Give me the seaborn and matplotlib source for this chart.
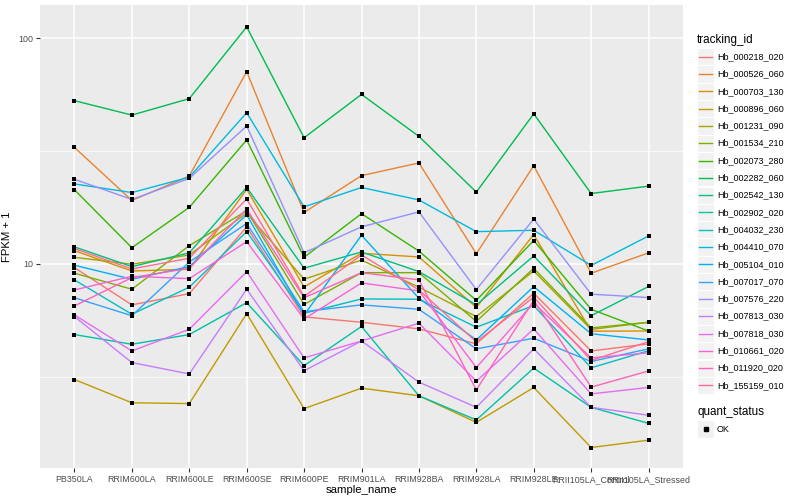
#!/usr/bin/env python3
"""Expression plot: FPKM + 1 per sample for 20 tracking ids (ggplot-like style)."""

import matplotlib

matplotlib.use("Agg")
import matplotlib.pyplot as plt
import pandas as pd
import seaborn as sns
from matplotlib.lines import Line2D
from matplotlib.patches import Rectangle
from matplotlib.ticker import FixedLocator, NullFormatter

SAMPLES = [
    "PB350LA", "RRIM600LA", "RRIM600LE", "RRIM600SE", "RRIM600PE", "RRIM901LA",
    "RRIM928BA", "RRIM928LA", "RRIM928LE", "RRII105LA_Control", "RRII105LA_Stressed",
]

# FPKM + 1, one value per sample (same order as SAMPLES)
HB_000218_020 = [9.63, 6.59, 7.39, 14.6, 5.83, 5.52, 5.16, 4.43, 7.42, 4.12, 4.43]
HB_000526_060 = [32.8, 19.1, 24.5, 71.0, 16.9, 24.6, 28.0, 11.1, 27.2, 9.1, 11.2]
HB_000703_130 = [11.45, 9.31, 9.47, 21.4, 7.91, 11.15, 10.74, 6.42, 13.5, 5.04, 5.05]
HB_000896_060 = [3.08, 2.43, 2.41, 6.03, 2.29, 2.82, 2.61, 1.99, 2.84, 1.54, 1.66]
HB_001231_090 = [10.7, 9.97, 10.96, 16.8, 8.56, 10.4, 7.89, 5.85, 9.31, 5.13, 5.52]
HB_001534_210 = [9.1, 7.73, 12.05, 17.2, 6.62, 9.15, 9.15, 5.57, 9.57, 5.21, 5.52]
HB_002073_280 = [21.3, 11.8, 17.8, 35.4, 10.7, 16.7, 11.4, 6.9, 12.7, 6.3, 5.05]
HB_002282_060 = [52.8, 45.6, 53.9, 112.0, 36.2, 56.3, 36.7, 20.8, 46.2, 20.5, 22.1]
HB_002542_130 = [11.9, 9.73, 11.2, 21.8, 9.58, 11.3, 9.25, 6.59, 10.85, 5.9, 7.95]
HB_002902_020 = [4.87, 4.41, 4.87, 6.74, 3.55, 5.29, 2.61, 2.04, 3.46, 2.32, 1.97]
HB_004032_230 = [8.5, 5.99, 7.89, 13.9, 6.05, 7.0, 6.98, 5.25, 6.54, 3.47, 4.13]
HB_004410_070 = [22.6, 20.7, 24.2, 46.7, 17.9, 21.8, 19.2, 13.9, 14.1, 9.85, 13.3]
HB_005104_010 = [9.87, 8.56, 9.73, 16.5, 5.94, 13.4, 7.05, 4.61, 7.94, 4.91, 4.61]
HB_007017_070 = [7.09, 5.9, 10.2, 15.1, 6.15, 6.59, 6.3, 4.21, 4.69, 3.7, 4.21]
HB_007576_220 = [23.7, 19.3, 23.9, 40.8, 11.2, 14.6, 17.0, 7.7, 15.8, 7.35, 7.1]
HB_007813_030 = [5.85, 3.66, 3.26, 7.73, 3.37, 4.56, 3.0, 2.32, 4.21, 2.32, 2.14]
HB_007818_030 = [5.95, 4.12, 5.14, 9.25, 3.84, 4.56, 5.47, 3.03, 5.16, 2.66, 2.84]
HB_010661_020 = [7.67, 8.82, 8.61, 12.55, 5.71, 8.24, 7.6, 3.48, 6.72, 3.84, 4.04]
HB_011920_020 = [6.52, 8.7, 9.57, 17.5, 7.09, 9.15, 8.5, 2.77, 6.91, 2.85, 3.36]
HB_155159_010 = [11.7, 9.5, 10.6, 19.4, 7.18, 10.96, 7.67, 4.52, 7.13, 3.74, 4.53]

SERIES = {
    "Hb_000218_020": HB_000218_020,
    "Hb_000526_060": HB_000526_060,
    "Hb_000703_130": HB_000703_130,
    "Hb_000896_060": HB_000896_060,
    "Hb_001231_090": HB_001231_090,
    "Hb_001534_210": HB_001534_210,
    "Hb_002073_280": HB_002073_280,
    "Hb_002282_060": HB_002282_060,
    "Hb_002542_130": HB_002542_130,
    "Hb_002902_020": HB_002902_020,
    "Hb_004032_230": HB_004032_230,
    "Hb_004410_070": HB_004410_070,
    "Hb_005104_010": HB_005104_010,
    "Hb_007017_070": HB_007017_070,
    "Hb_007576_220": HB_007576_220,
    "Hb_007813_030": HB_007813_030,
    "Hb_007818_030": HB_007818_030,
    "Hb_010661_020": HB_010661_020,
    "Hb_011920_020": HB_011920_020,
    "Hb_155159_010": HB_155159_010,
}

# ggplot2 default hue palette for 20 levels
HUE_COLORS = [
    "#F8766D", "#EA8331", "#D89000", "#C09B00", "#A3A500", "#7CAE00", "#39B600",
    "#00BB4E", "#00BF7D", "#00C1A3", "#00BFC4", "#00BAE0", "#00B0F6", "#35A2FF",
    "#9590FF", "#C77CFF", "#E76BF3", "#FA62DB", "#FF62BC", "#FF6C91",
]

W, H = 800, 500
FONT = "Liberation Sans"


def fpx(x, y):
    """Pixel position (from top-left) to figure fraction."""
    return x / W, 1 - y / H


def build_frame() -> pd.DataFrame:
    rows = []
    for tid, vals in SERIES.items():
        for sample, v in zip(SAMPLES, vals):
            rows.append({"tracking_id": tid, "sample_name": sample, "fpkm": v, "quant_status": "OK"})
    return pd.DataFrame(rows)


def draw_legend(fig, ids, colors):
    txt = dict(family=FONT, va="center", ha="left")
    fig.text(*fpx(697, 40), "tracking_id", fontsize=8.4, **txt)
    y0, step = 56.7, 17.3
    for i, (tid, col) in enumerate(zip(ids, colors)):
        y = y0 + i * step
        fig.add_artist(Rectangle(fpx(697, y + 8.6), 17 / W, 17.2 / H, transform=fig.transFigure,
                                 facecolor="#F2F2F2", edgecolor="white", linewidth=0.8))
        fig.add_artist(Line2D([699 / W, 712 / W], [1 - y / H] * 2, transform=fig.transFigure,
                              color=col, linewidth=1.0))
        fig.text(*fpx(717, y), tid, fontsize=6.5, **txt)

    fig.text(*fpx(697, 412), "quant_status", fontsize=8.4, **txt)
    fig.add_artist(Rectangle(fpx(697, 437.6), 17 / W, 17.2 / H, transform=fig.transFigure,
                             facecolor="#F2F2F2", edgecolor="white", linewidth=0.8))
    fig.add_artist(Line2D([705.5 / W], [1 - 429 / H], transform=fig.transFigure, marker="s",
                          markersize=3.2, color="black", linestyle="none"))
    fig.text(*fpx(717, 429), "OK", fontsize=6.5, **txt)


def main() -> None:
    df = build_frame()
    ids = list(SERIES.keys())

    fig = plt.figure(figsize=(W / 100, H / 100), dpi=100)
    fig.patch.set_facecolor("white")
    ax = fig.add_axes([40 / W, 1 - 468 / H, (683 - 40) / W, (468 - 5) / H])
    ax.set_facecolor("#EBEBEB")

    sns.lineplot(data=df, x="sample_name", y="fpkm", hue="tracking_id", hue_order=ids,
                 palette=HUE_COLORS, units="tracking_id", estimator=None, sort=False,
                 linewidth=1.0, legend=False, ax=ax, zorder=3)
    sns.scatterplot(data=df, x="sample_name", y="fpkm", color="black", marker="s", s=9,
                    linewidth=0, legend=False, ax=ax, zorder=4)

    ax.set_yscale("log")
    ax.set_ylim(1.25, 140)
    ax.set_xlim(-0.6, len(SAMPLES) - 0.4)
    ax.yaxis.set_major_locator(FixedLocator([10, 100]))
    ax.set_yticklabels(["10", "100"])
    ax.yaxis.set_minor_locator(FixedLocator([10 ** 0.5, 10 ** 1.5]))
    ax.yaxis.set_minor_formatter(NullFormatter())

    ax.grid(which="major", color="white", linewidth=1.1, zorder=0)
    ax.grid(which="minor", axis="y", color="white", linewidth=0.5, zorder=0)
    ax.set_axisbelow(True)
    for sp in ax.spines.values():
        sp.set_visible(False)

    ax.tick_params(axis="both", which="major", length=3, width=0.8, color="#333333",
                   labelcolor="#4D4D4D", labelsize=6.4, pad=2)
    ax.tick_params(axis="y", which="minor", length=0)
    for lab in ax.get_xticklabels() + ax.get_yticklabels():
        lab.set_family(FONT)

    ax.set_xlabel("sample_name", fontsize=8.2, family=FONT, labelpad=1)
    ax.set_ylabel("FPKM + 1", fontsize=8.2, family=FONT)
    ax.yaxis.set_label_coords((12 - 40) / 643, 0.5)

    draw_legend(fig, ids, HUE_COLORS)

    fig.savefig("out.png", dpi=100)
    plt.close(fig)


if __name__ == "__main__":
    main()
